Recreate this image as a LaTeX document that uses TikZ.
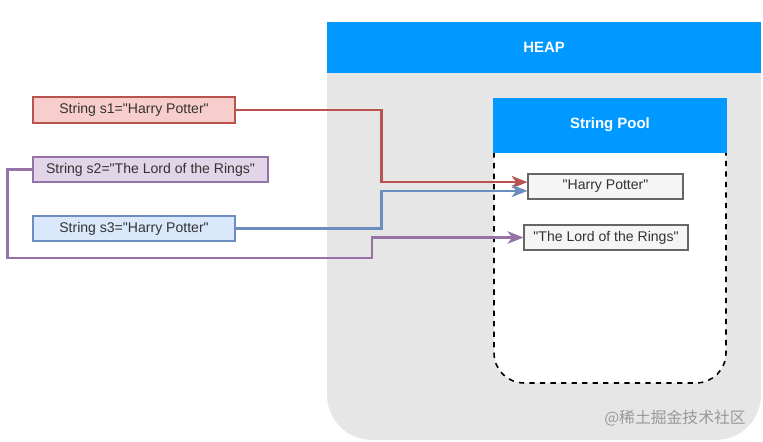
\documentclass[tikz,border=0pt]{standalone}
\usepackage{fontspec}
\setmainfont{Liberation Sans}
\newfontfamily\cjkfont{Noto Sans CJK SC}
\usetikzlibrary{arrows.meta,positioning,calc}
\definecolor{hdrblue}{HTML}{0099FF}
\definecolor{heapgray}{HTML}{E6E6E6}
\definecolor{redfill}{HTML}{F8CECC}
\definecolor{redline}{HTML}{B85450}
\definecolor{purfill}{HTML}{E1D5E7}
\definecolor{purline}{HTML}{9673A6}
\definecolor{bluefill}{HTML}{DAE8FC}
\definecolor{blueline}{HTML}{6C8EBF}
\definecolor{txtgray}{HTML}{333333}
\newcommand{\dq}{\textquotedbl}

\begin{document}
\begin{tikzpicture}[x=0.02cm, y=-0.02cm,
  var/.style={draw, rectangle, minimum height=0.5cm, inner sep=0pt, line width=0.6pt,
    text=txtgray, font=\fontsize{8}{9.6}\selectfont},
  lit/.style={var, fill=black!4, draw=black!60},
  header/.style={rectangle, fill=hdrblue, inner sep=0pt, text=white,
    font=\bfseries\fontsize{8.5}{10}\selectfont},
  link/.style={line width=1.5pt},
  >={Stealth[length=9pt, width=7pt, inset=2.5pt]}
]
  \useasboundingbox (0,0) rectangle (763,441);

  % heap area
  \node[rectangle, fill=heapgray, rounded corners=0.9cm, minimum width=8.68cm,
    minimum height=8.36cm] (heapbody) at (544,231) {};
  \node[header, minimum width=8.68cm, minimum height=1.02cm] (heap) at (544,47.5) {HEAP};

  % string pool
  \node[rectangle, draw, dashed, line width=0.9pt, fill=white, rounded corners=0.6cm,
    minimum width=4.64cm, minimum height=5.68cm] (poolbody) at (610,241) {};
  \node[header, minimum width=4.7cm, minimum height=1.1cm] (pool) at (610,125) {String Pool};

  \node[lit, minimum width=3.1cm] (hp) at (605.5,186.5) {\dq Harry Potter\dq};
  \node[lit, minimum width=3.28cm] (lotr) at (606,237.5) {\dq The Lord of the Rings\dq};

  % variables
  \node[var, fill=redfill, draw=redline, minimum width=4.04cm, minimum height=0.52cm]
    (s1) at (134,110) {String s1=\dq Harry Potter\dq};
  \node[var, fill=purfill, draw=purline, minimum width=4.7cm] (s2) at (150.5,169.5)
    {String s2=\dq The Lord of the Rings\dq};
  \node[var, fill=bluefill, draw=blueline, minimum width=4.04cm] (s3) at (134,228.5)
    {String s3=\dq Harry Potter\dq};

  \coordinate (pbend) at (372,258);

  \draw[link, redline, ->] (s1.east) -- ++(146,0) |- ([yshift=2.5pt]hp.west);
  \draw[link, blueline, ->] (s3.east) -- ++(146,0) |- ([yshift=-2.5pt]hp.west);
  \draw[link, purline, ->] (s2.west) -- ++(-25,0) |- (pbend) |- (lotr.west);

  \node[text=black!40, font=\cjkfont\fontsize{9}{10}\selectfont] (mark) at (675,418)
    {@稀土掘金技术社区};
\end{tikzpicture}
\end{document}
